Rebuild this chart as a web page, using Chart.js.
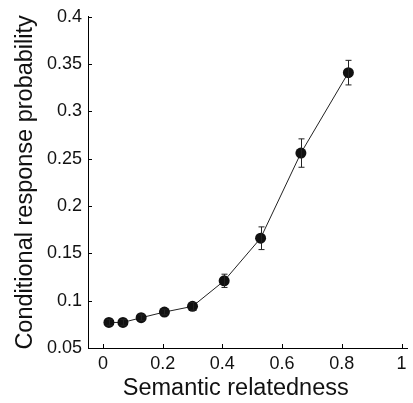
<!DOCTYPE html>
<html>
<head>
<meta charset="utf-8">
<script src="https://cdn.jsdelivr.net/npm/chart.js@4"></script>
<style>
    html, body { margin: 0; padding: 0; background: #fff; }
    #wrap { width: 413px; height: 403px; }
</style>
</head>
<body>
<div id="wrap"><canvas id="crpChart" width="413" height="403"></canvas></div>
<script>
// Data
const relatedness = [0.02, 0.067, 0.128, 0.206, 0.30, 0.406, 0.528, 0.663, 0.822];
const crpValues   = [0.077, 0.077, 0.082, 0.088, 0.094, 0.121, 0.166, 0.256, 0.341];
const crpErrors   = [0.003, 0.003, 0.003, 0.003, 0.004, 0.007, 0.012, 0.015, 0.013];
const xTickValues = [0, 0.2, 0.4, 0.6, 0.8, 1];
const yTickValues = [0.05, 0.1, 0.15, 0.2, 0.25, 0.3, 0.35, 0.4];

const FONT = 'Liberation Sans, Arial, Helvetica, sans-serif';

// Error bars + inward tick marks, drawn from the chart scales
const errorBarPlugin = {
    id: 'errorBars',
    beforeDraw(chart) {
        // x title sits a bit left of the axis centre in the original figure
        const xs = chart.scales.x;
        if (!xs._titleShifted) {
            const orig = xs.drawTitle;
            xs.drawTitle = function () {
                this.ctx.save();
                this.ctx.translate(-12, 0);
                orig.apply(this, arguments);
                this.ctx.restore();
            };
            xs._titleShifted = true;
        }
    },
    afterDatasetsDraw(chart) {
        const ctx = chart.ctx;
        const xs = chart.scales.x;
        const ys = chart.scales.y;
        ctx.save();
        ctx.strokeStyle = '#222';
        ctx.lineWidth = 1;
        relatedness.forEach((x, i) => {
            const px = Math.round(xs.getPixelForValue(x)) + 0.5;
            const top = ys.getPixelForValue(crpValues[i] + crpErrors[i]);
            const bot = ys.getPixelForValue(crpValues[i] - crpErrors[i]);
            ctx.beginPath();
            ctx.moveTo(px, top);
            ctx.lineTo(px, bot);
            ctx.moveTo(px - 3, top);
            ctx.lineTo(px + 3, top);
            ctx.moveTo(px - 3, bot);
            ctx.lineTo(px + 3, bot);
            ctx.stroke();
        });
        // inward ticks
        const area = chart.chartArea;
        ctx.strokeStyle = '#000';
        xTickValues.forEach(v => {
            const px = Math.round(xs.getPixelForValue(v)) + 0.5;
            ctx.beginPath();
            ctx.moveTo(px, area.bottom);
            ctx.lineTo(px, area.bottom - 4);
            ctx.stroke();
        });
        yTickValues.forEach(v => {
            const py = Math.round(ys.getPixelForValue(v)) + 0.5;
            ctx.beginPath();
            ctx.moveTo(area.left, py);
            ctx.lineTo(area.left + 4, py);
            ctx.stroke();
        });
        ctx.restore();
    }
};

new Chart(document.getElementById('crpChart'), {
    type: 'line',
    data: {
        datasets: [{
            data: relatedness.map((x, i) => ({ x: x, y: crpValues[i] })),
            borderColor: '#222',
            borderWidth: 1,
            pointRadius: 5.5,
            pointBackgroundColor: '#111',
            pointBorderColor: '#111',
            pointBorderWidth: 0,
            tension: 0
        }]
    },
    options: {
        responsive: false,
        animation: false,
        devicePixelRatio: 1,
        layout: { padding: { top: 15, right: 1, left: 0, bottom: 0 } },
        plugins: {
            legend: { display: false },
            tooltip: { enabled: false }
        },
        scales: {
            x: {
                type: 'linear',
                min: -0.05,
                max: 1.02,
                afterBuildTicks: scale => {
                    scale.ticks = xTickValues.map(v => ({ value: v }));
                },
                afterFit: scale => { scale.height = 55; },
                grid: { display: true, drawOnChartArea: false, drawTicks: false },
                border: { display: true, color: '#000', width: 1 },
                ticks: {
                    color: '#111',
                    padding: 5,
                    font: { family: FONT, size: 18 },
                    callback: v => String(+v.toFixed(2))
                },
                title: {
                    display: true,
                    text: 'Semantic relatedness',
                    color: '#111',
                    padding: { top: 0, bottom: 0 },
                    font: { family: FONT, size: 23.5 }
                }
            },
            y: {
                type: 'linear',
                min: 0.05,
                max: 0.4,
                afterBuildTicks: scale => {
                    scale.ticks = yTickValues.map(v => ({ value: v }));
                },
                afterFit: scale => { scale.width = 88; },
                grid: { display: true, drawOnChartArea: false, drawTicks: false },
                border: { display: true, color: '#000', width: 1 },
                ticks: {
                    color: '#111',
                    padding: 6,
                    font: { family: FONT, size: 18 },
                    callback: v => String(+v.toFixed(2))
                },
                title: {
                    display: true,
                    text: 'Conditional response probability',
                    color: '#111',
                    padding: { top: 11, bottom: 0 },
                    font: { family: FONT, size: 23.5 }
                }
            }
        }
    },
    plugins: [errorBarPlugin]
});
</script>
</body>
</html>
